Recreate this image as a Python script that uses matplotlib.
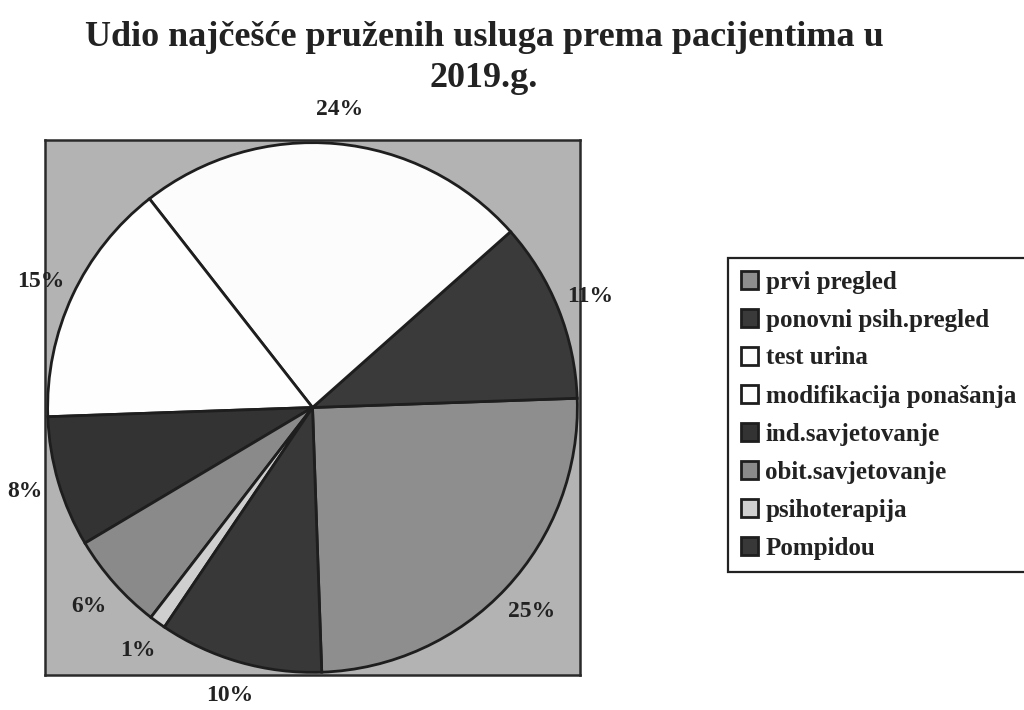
import matplotlib
matplotlib.use("Agg")
import matplotlib.pyplot as plt

title = "Udio najčešće pruženih usluga prema pacijentima u\n2019.g."
categories = ["prvi pregled", "ponovni psih.pregled", "test urina",
              "modifikacija ponašanja", "ind.savjetovanje", "obit.savjetovanje",
              "psihoterapija", "Pompidou"]
values = [25, 11, 24, 15, 8, 6, 1, 10]
colors = ["#8e8e8e", "#3a3a3a", "#fcfcfc", "#fefefe", "#333333", "#8a8a8a",
          "#cfcfcf", "#383838"]

plt.rcParams['font.family'] = ['Liberation Serif', 'DejaVu Serif']
txt = "#222222"

fig = plt.figure(figsize=(10.24, 7.10), dpi=100)
W, H = 1024, 710

fig.text(484 / W, 1 - 58 / H, title, ha="center", va="center",
         fontsize=26, fontweight="bold", color=txt, linespacing=1.3)

ax = fig.add_axes([45 / W, 1 - 675 / H, 535 / W, 535 / H])
wedges, texts, autotexts = ax.pie(
    values, colors=colors, startangle=-88, counterclock=True,
    autopct="%1.0f%%", pctdistance=1.13, radius=1.0,
    wedgeprops=dict(edgecolor="#1e1e1e", linewidth=2.0),
    textprops=dict(fontsize=17, fontweight="bold", color=txt))
for t in autotexts:
    t.set_clip_on(False)
ax.set_frame_on(True)
ax.set_facecolor("#b3b3b3")
ax.set_xlim(-1.01, 1.01)
ax.set_ylim(-1.01, 1.01)
ax.set_aspect("auto")
ax.set_xticks([])
ax.set_yticks([])
for s in ax.spines.values():
    s.set_visible(True)
    s.set_color("#2a2a2a")
    s.set_linewidth(1.8)

leg = fig.legend(wedges, categories, loc="upper left",
                 bbox_to_anchor=(728 / W, 1 - 575 / H, 330 / W, 317 / H),
                 mode="expand", frameon=True, fancybox=False,
                 prop=dict(size=18, weight="bold"), labelcolor=txt,
                 handlelength=0.7, handleheight=0.7, handletextpad=0.3,
                 labelspacing=0.6, borderaxespad=0, borderpad=0.5,
                 framealpha=1)
leg.get_frame().set_edgecolor("#222222")
leg.get_frame().set_linewidth(1.6)

fig.savefig("out.png", dpi=100, facecolor="white")
